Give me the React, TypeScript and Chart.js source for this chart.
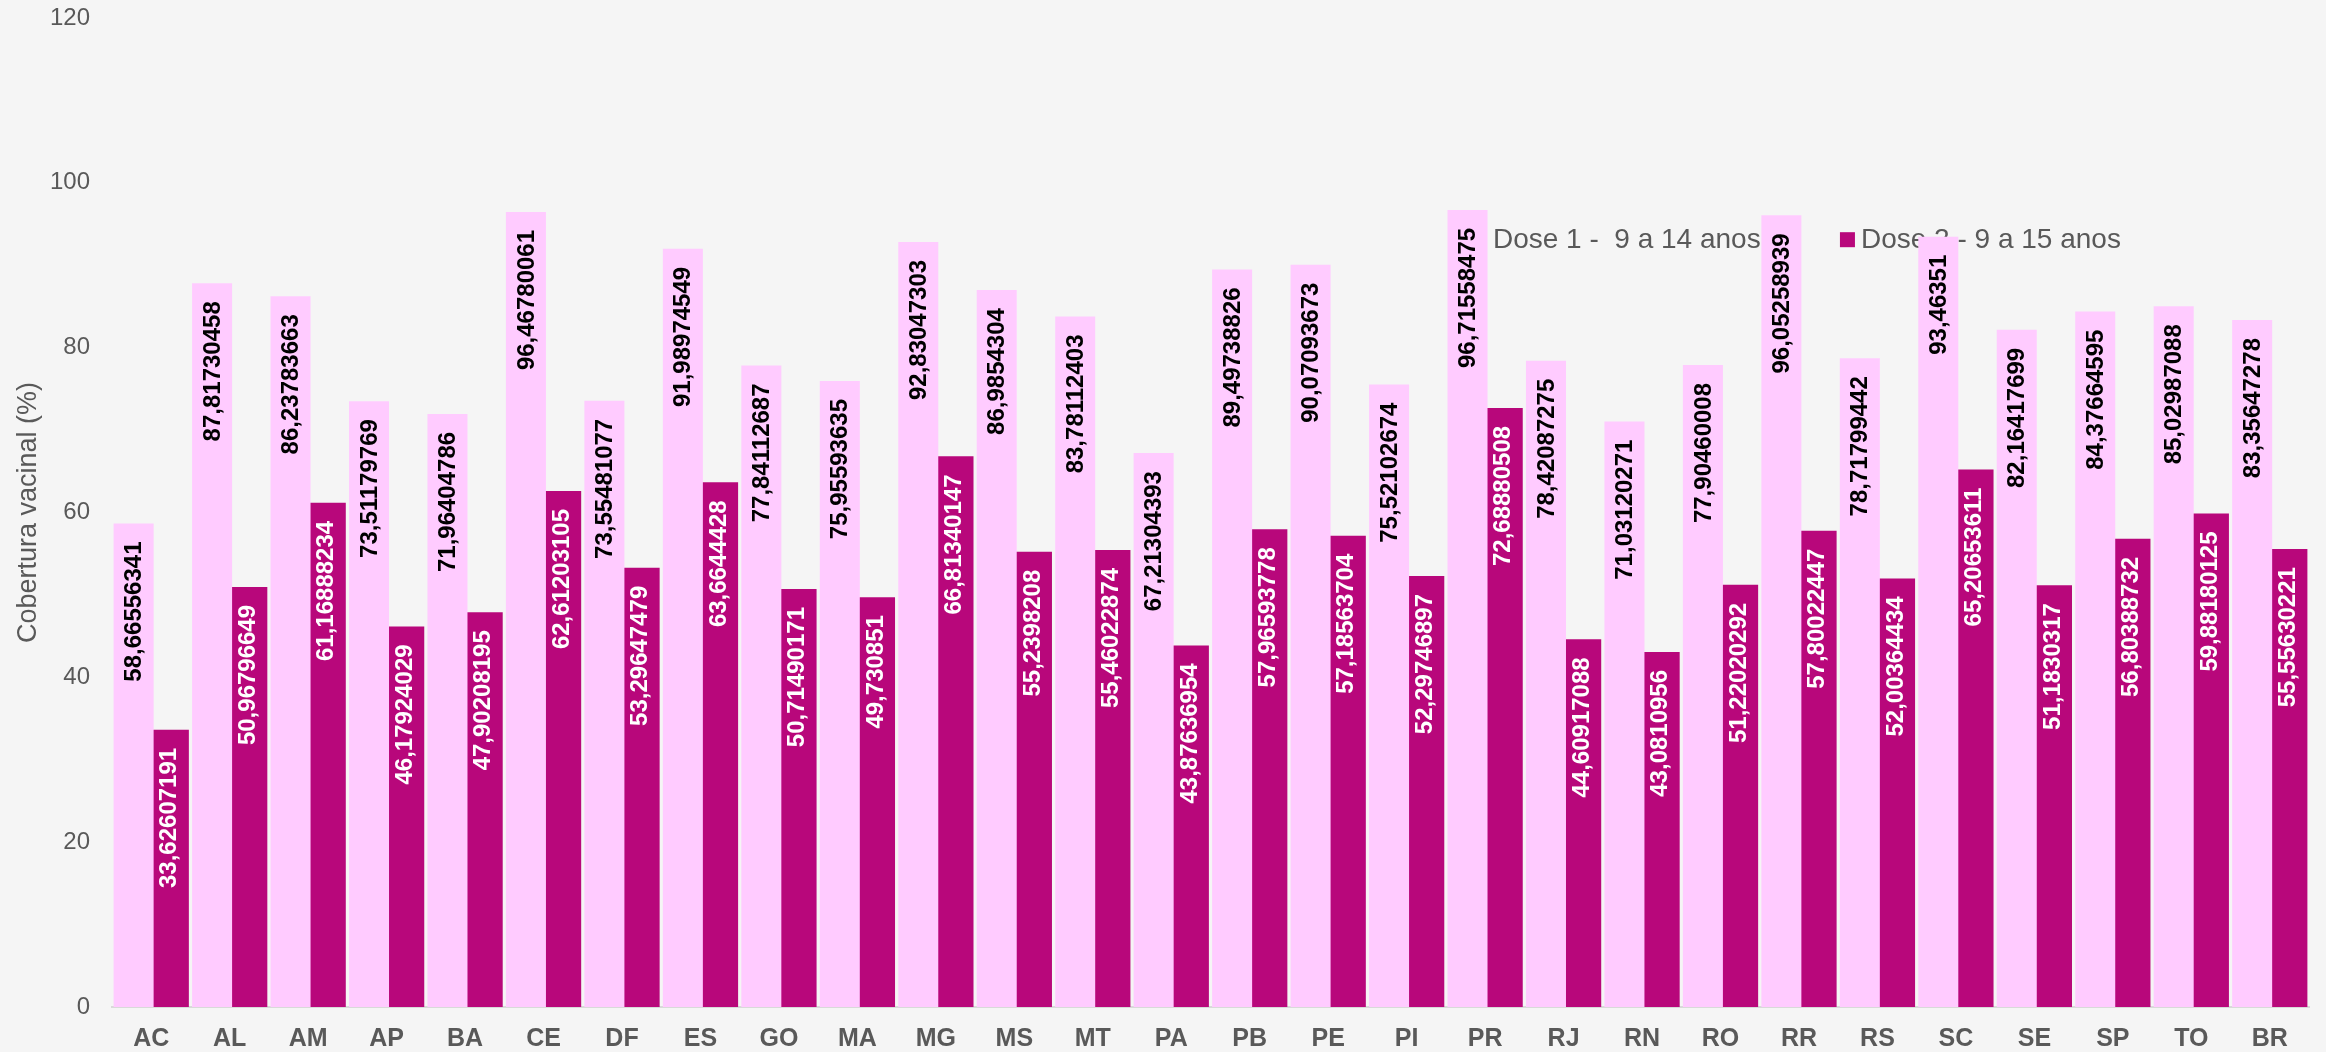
import React, { useEffect, useRef } from "react";
import { Chart, registerables } from "chart.js";

Chart.register(...registerables);

const categories = [
  "AC", "AL", "AM", "AP", "BA", "CE", "DF", "ES", "GO", "MA", "MG", "MS", "MT", "PA",
  "PB", "PE", "PI", "PR", "RJ", "RN", "RO", "RR", "RS", "SC", "SE", "SP", "TO", "BR",
];

const dose1 = [
  58.66556341, 87.81730458, 86.23783663, 73.51179769, 71.96404786, 96.46780061, 73.55481077,
  91.98974549, 77.84112687, 75.95593635, 92.83047303, 86.9854304, 83.78112403, 67.21304393,
  89.49738826, 90.07093673, 75.52102674, 96.71558475, 78.42087275, 71.03120271, 77.90460008,
  96.05258939, 78.71799442, 93.46351, 82.16417699, 84.37664595, 85.02987088, 83.35647278,
];

const dose2 = [
  33.62607191, 50.96796649, 61.16888234, 46.17924029, 47.90208195, 62.61203105, 53.29647479,
  63.6644428, 50.71490171, 49.730851, 66.81340147, 55.2398208, 55.46022874, 43.87636954,
  57.96593778, 57.18563704, 52.29746897, 72.68880508, 44.60917088, 43.0810956, 51.22020292,
  57.80022447, 52.00364434, 65.20653611, 51.1830317, 56.80388732, 59.88180125, 55.55630221,
];

const seriesNames = ["Dose 1 -  9 a 14 anos", "Dose 2 - 9 a 15 anos"];
const yTicks = [0, 20, 40, 60, 80, 100, 120];
const yTitle = "Cobertura vacinal (%)";

const PINK = "#ffcbff";
const MAGENTA = "#b8077b";
const GRAY = "#595959";
const FONT = "'Liberation Sans', Arial, sans-serif";

const bgPlugin = {
  id: "bg",
  beforeDraw(chart: any) {
    const { ctx, width, height } = chart;
    ctx.save();
    ctx.fillStyle = "#f5f5f5";
    ctx.fillRect(0, 0, width, height);
    ctx.restore();
  },
};

const legendPlugin = {
  id: "innerLegend",
  beforeDatasetsDraw(chart: any) {
    const { ctx, chartArea, scales } = chart;
    const w = chartArea.right - chartArea.left;
    const yy = scales.y.getPixelForValue(93.1);
    const items = [
      { x: chartArea.left + 0.619 * w, color: PINK, text: seriesNames[0] },
      { x: chartArea.left + 0.7865 * w, color: MAGENTA, text: seriesNames[1] },
    ];
    ctx.save();
    ctx.font = `28px ${FONT}`;
    ctx.textBaseline = "middle";
    ctx.textAlign = "left";
    items.forEach((it) => {
      ctx.fillStyle = it.color;
      ctx.fillRect(it.x, yy - 7.5, 15, 15);
      ctx.fillStyle = GRAY;
      ctx.fillText(it.text, it.x + 21, yy + 1);
    });
    ctx.restore();
  },
};

const labelPlugin = {
  id: "barLabels",
  afterDatasetsDraw(chart: any) {
    const { ctx } = chart;
    chart.data.datasets.forEach((ds: any, i: number) => {
      const meta = chart.getDatasetMeta(i);
      meta.data.forEach((bar: any, j: number) => {
        const v = ds.data[j];
        ctx.save();
        ctx.translate(bar.x, bar.y + 18);
        ctx.rotate(-Math.PI / 2);
        ctx.textAlign = "right";
        ctx.textBaseline = "middle";
        ctx.fillStyle = i === 0 ? "#000000" : "#ffffff";
        ctx.font = `bold 24px ${FONT}`;
        ctx.fillText(String(v).replace(".", ","), 0, 1);
        ctx.restore();
      });
    });
  },
};

export default function App() {
  const canvasRef = useRef<HTMLCanvasElement | null>(null);

  useEffect(() => {
    document.body.style.margin = "0";
    const canvas = canvasRef.current;
    if (!canvas) return;
    Chart.defaults.font.family = FONT;
    const chart = new Chart(canvas, {
      type: "bar",
      data: {
        labels: categories,
        datasets: [
          {
            label: seriesNames[0],
            data: dose1,
            backgroundColor: PINK,
            borderWidth: 0,
            barPercentage: 1.136,
            categoryPercentage: 0.898,
          },
          {
            label: seriesNames[1],
            data: dose2,
            backgroundColor: MAGENTA,
            borderWidth: 0,
            barPercentage: 1.136,
            categoryPercentage: 0.898,
          },
        ],
      },
      options: {
        animation: false,
        responsive: true,
        maintainAspectRatio: false,
        layout: { padding: { left: 0, right: 17, top: 18, bottom: 0 } },
        plugins: {
          legend: { display: false },
          tooltip: { enabled: false },
        },
        scales: {
          x: {
            grid: { color: "transparent", drawTicks: false },
            border: { display: true, color: "#d9d9d9", width: 2 },
            ticks: {
              color: GRAY,
              font: { family: FONT, size: 25, weight: "bold" },
              padding: 17,
              maxRotation: 0,
              autoSkip: false,
            },
            afterFit: (s: any) => {
              s.height = 45;
            },
          },
          y: {
            min: 0,
            max: 120,
            grid: { display: false, drawTicks: true, tickLength: 22 },
            border: { display: false },
            afterBuildTicks: (s: any) => {
              s.ticks = yTicks.map((v) => ({ value: v }));
            },
            ticks: {
              color: GRAY,
              font: { family: FONT, size: 24 },
              padding: 0,
            },
            title: {
              display: true,
              text: yTitle,
              color: GRAY,
              font: { family: FONT, size: 27 },
              padding: { top: 12, bottom: 0 },
            },
            afterFit: (s: any) => {
              s.width = 112;
            },
          },
        },
      },
      plugins: [bgPlugin, legendPlugin, labelPlugin],
    });
    return () => chart.destroy();
  }, []);

  return (
    <div style={{ width: "2326px", height: "1052px", position: "relative" }}>
      <canvas ref={canvasRef} />
    </div>
  );
}
